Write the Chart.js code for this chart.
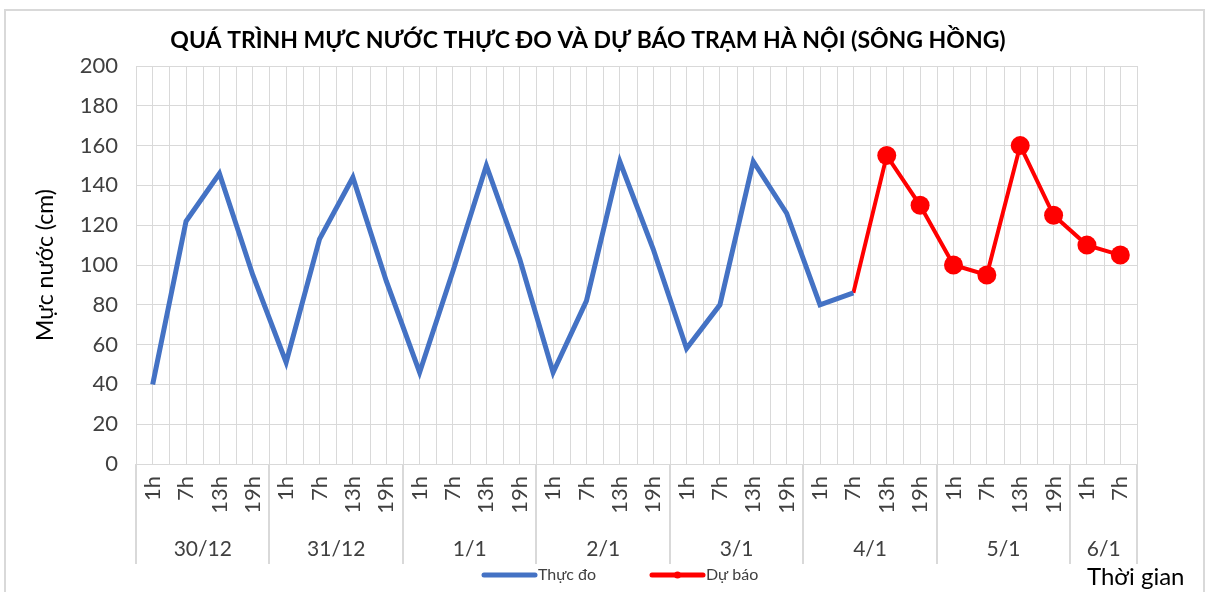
<!DOCTYPE html>
<html>
<head>
<meta charset="utf-8">
<script src="https://cdn.jsdelivr.net/npm/chart.js@4.4.1/dist/chart.umd.min.js"></script>
<style>
  html, body { margin: 0; padding: 0; background: #fff; }
  #wrap { width: 1207px; height: 592px; }
</style>
</head>
<body>
<div id="wrap"><canvas id="water-level-chart" width="1207" height="592"></canvas></div>
<script>
// Hour of each observation (x axis)
const hours = [
  "1h", "7h", "13h", "19h",
  "1h", "7h", "13h", "19h",
  "1h", "7h", "13h", "19h",
  "1h", "7h", "13h", "19h",
  "1h", "7h", "13h", "19h",
  "1h", "7h", "13h", "19h",
  "1h", "7h", "13h", "19h",
  "1h", "7h",
];

// Day groups under the hours
const days = ["30/12", "31/12", "1/1", "2/1", "3/1", "4/1", "5/1", "6/1"];
const hoursPerDay = [4, 4, 4, 4, 4, 4, 4, 2];

// Measured water level (cm)
const measured = [
  40, 122, 146, 95,
  51, 113, 144, 92,
  46, 97, 150, 103,
  46, 82, 152, 108,
  58, 80, 152, 126,
  80, 86, null, null,
  null, null, null, null,
  null, null,
];

// Forecast water level (cm)
const forecast = [
  null, null, null, null,
  null, null, null, null,
  null, null, null, null,
  null, null, null, null,
  null, null, null, null,
  null, 86, 155, 130,
  100, 95, 160, 125,
  110, 105,
];

const TITLE = "QUÁ TRÌNH MỰC NƯỚC THỰC ĐO VÀ DỰ BÁO TRẠM HÀ NỘI (SÔNG HỒNG)";
const GRID = "#d9d9d9";
const TEXT = "#404040";

// Excel-like extras: frame, half-step grid, day groups, title, legend
const excelDecor = {
  id: "excelDecor",
  beforeDraw(chart) {
    const ctx = chart.ctx;
    ctx.save();
    ctx.fillStyle = "#fff";
    ctx.fillRect(0, 0, chart.width, chart.height);
    ctx.strokeStyle = GRID;
    ctx.lineWidth = 2;
    ctx.strokeRect(5, 10, 1199, 620);
    ctx.restore();
  },
  beforeDatasetsDraw(chart) {
    const { ctx, chartArea } = chart;
    const x = chart.scales.x;
    const half = (x.getPixelForValue(1) - x.getPixelForValue(0)) / 2;
    ctx.save();
    ctx.strokeStyle = GRID;
    ctx.lineWidth = 1;
    for (let i = 0; i <= hours.length; i++) {
      const px = Math.round(x.getPixelForValue(i) - half) + 0.5;
      ctx.beginPath();
      ctx.moveTo(px, chartArea.top);
      ctx.lineTo(px, chartArea.bottom);
      ctx.stroke();
    }
    ctx.restore();
  },
  afterDraw(chart) {
    const { ctx, chartArea } = chart;
    const x = chart.scales.x;
    const half = (x.getPixelForValue(1) - x.getPixelForValue(0)) / 2;
    ctx.save();

    // day separators and labels
    ctx.strokeStyle = GRID;
    ctx.lineWidth = 2;
    ctx.fillStyle = TEXT;
    ctx.font = "21px Lato";
    ctx.textAlign = "center";
    ctx.textBaseline = "alphabetic";
    let start = 0;
    days.forEach((d, k) => {
      const x0 = x.getPixelForValue(start) - half;
      const x1 = x.getPixelForValue(start + hoursPerDay[k] - 1) + half;
      [x0, x1].forEach((px) => {
        ctx.beginPath();
        ctx.moveTo(Math.round(px), chartArea.bottom);
        ctx.lineTo(Math.round(px), 564);
        ctx.stroke();
      });
      ctx.fillText(d, (x0 + x1) / 2, 556);
      start += hoursPerDay[k];
    });

    // title
    ctx.fillStyle = "#000";
    ctx.font = "bold 23px Lato";
    ctx.fillText(TITLE, 588, 48);

    // x axis name
    ctx.font = "24px Lato";
    ctx.fillStyle = "#000";
    ctx.textAlign = "left";
    ctx.fillText("Thời gian", 1087, 585);

    // legend
    ctx.font = "16px Lato";
    ctx.fillStyle = TEXT;
    ctx.textBaseline = "middle";
    const ly = 575;
    const items = [
      { ds: chart.data.datasets[0], x: 484, dot: false },
      { ds: chart.data.datasets[1], x: 652, dot: true },
    ];
    items.forEach((it) => {
      ctx.strokeStyle = it.ds.borderColor;
      ctx.lineWidth = 5;
      ctx.lineCap = "round";
      ctx.beginPath();
      ctx.moveTo(it.x, ly);
      ctx.lineTo(it.x + 51, ly);
      ctx.stroke();
      if (it.dot) {
        ctx.fillStyle = it.ds.borderColor;
        ctx.beginPath();
        ctx.arc(it.x + 25.5, ly, 3.5, 0, Math.PI * 2);
        ctx.fill();
      }
      ctx.fillStyle = TEXT;
      ctx.fillText(it.ds.label, it.x + 54, ly);
    });
    ctx.restore();
  },
};

const waterChart = new Chart(document.getElementById("water-level-chart"), {
  type: "line",
  data: {
    labels: hours,
    datasets: [
      {
        label: "Thực đo",
        data: measured,
        borderColor: "#4472C4",
        backgroundColor: "#4472C4",
        borderWidth: 5,
        pointRadius: 0,
        tension: 0,
      },
      {
        label: "Dự báo",
        data: forecast,
        borderColor: "#FF0000",
        backgroundColor: "#FF0000",
        borderWidth: 4,
        pointRadius: (c) => (c.dataIndex === 21 ? 0 : 9.5),
        pointBorderWidth: 0,
        tension: 0,
      },
    ],
  },
  options: {
    responsive: false,
    animation: false,
    devicePixelRatio: 1,
    layout: { padding: { top: 66, right: 70, left: 0, bottom: 0 } },
    plugins: {
      legend: { display: false },
      title: { display: false },
      tooltip: { enabled: false },
    },
    scales: {
      x: {
        offset: true,
        grid: { color: GRID, drawTicks: false, offset: false },
        border: { color: GRID, width: 1 },
        ticks: {
          autoSkip: false,
          minRotation: 90,
          maxRotation: 90,
          padding: 12,
          color: TEXT,
          font: { family: "Lato", size: 22 },
        },
        afterFit: (s) => { s.height = 128; },
      },
      y: {
        min: 0,
        max: 200,
        ticks: {
          stepSize: 20,
          padding: 18,
          color: TEXT,
          font: { family: "Lato", size: 22 },
        },
        grid: { color: GRID, drawTicks: false },
        border: { color: GRID },
        title: {
          display: true,
          text: "Mực nước (cm)",
          color: "#000",
          font: { family: "Lato", size: 23 },
          padding: { top: 32, bottom: 0 },
        },
        afterFit: (s) => { s.width = 136; },
      },
    },
  },
  plugins: [excelDecor],
});
</script>
</body>
</html>
